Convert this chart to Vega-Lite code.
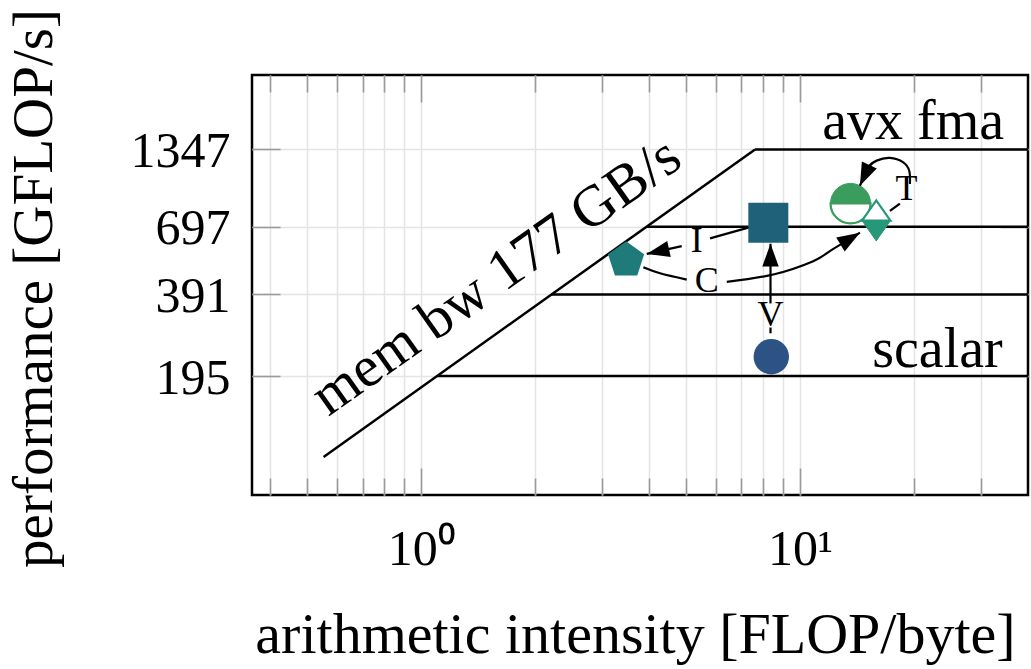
{
  "$schema": "https://vega.github.io/schema/vega-lite/v6.json",
  "width": 776,
  "height": 420,
  "autosize": "none",
  "padding": {"left": 252, "top": 75, "right": 3, "bottom": 174},
  "background": "white",
  "config": {
    "font": "Liberation Serif",
    "view": {"stroke": "black", "strokeWidth": 2.5, "fill": "white"},
    "axis": {
      "domain": false,
      "labelFont": "Liberation Serif",
      "labelFontSize": 50,
      "labelColor": "black",
      "titleFont": "Liberation Serif",
      "titleFontSize": 54,
      "titleFontWeight": "normal",
      "titleColor": "black",
      "tickColor": "#9a9a9a",
      "tickWidth": 1.6,
      "gridColor": "#e4e4e4",
      "gridWidth": 1.5,
      "labelOverlap": false,
      "labelFlush": false
    }
  },
  "resolve": {"axis": {"x": "independent", "y": "independent"}},
  "datasets": {
    "roofs": [
      {"roof": "mem bw", "x": 0.5524, "y": 97.8, "x2": 7.61, "y2": 1347},
      {"roof": "avx fma", "x": 7.61, "y": 1347, "x2": 40, "y2": 1347},
      {"roof": "697", "x": 3.938, "y": 697, "x2": 40, "y2": 697},
      {"roof": "391", "x": 2.209, "y": 391, "x2": 40, "y2": 391},
      {"roof": "scalar", "x": 1.1017, "y": 195, "x2": 40, "y2": 195}
    ],
    "markers": [
      {"name": "scalar", "x": 8.4, "y": 230},
      {"name": "V", "x": 8.25, "y": 721},
      {"name": "I", "x": 3.475, "y": 524},
      {"name": "C", "x": 13.6, "y": 850},
      {"name": "T", "x": 15.9, "y": 734}
    ],
    "arrows": [
      {"path": "I1", "i": 0, "x": 7.305, "y": 691.1},
      {"path": "I1", "i": 1, "x": 5.788, "y": 631.0},
      {"path": "I2", "i": 0, "x": 4.874, "y": 590.6},
      {"path": "I2", "i": 1, "x": 3.94, "y": 552.7},
      {"path": "C1", "i": 0, "x": 3.86, "y": 493.4},
      {"path": "C1", "i": 1, "x": 4.272, "y": 468.7},
      {"path": "C1", "i": 2, "x": 5.024, "y": 444.0},
      {"path": "C2", "i": 0, "x": 6.408, "y": 435.0},
      {"path": "C2", "i": 1, "x": 8.505, "y": 463.5},
      {"path": "C2", "i": 2, "x": 10.84, "y": 519.3},
      {"path": "C2", "i": 3, "x": 12.22, "y": 575.6},
      {"path": "C2", "i": 4, "x": 14.4, "y": 662.2},
      {"path": "V1", "i": 0, "x": 8.36, "y": 280.8},
      {"path": "V1", "i": 1, "x": 8.36, "y": 294.9},
      {"path": "V2", "i": 0, "x": 8.36, "y": 362.2},
      {"path": "V2", "i": 1, "x": 8.36, "y": 602.6},
      {"path": "T1", "i": 0, "x": 17.28, "y": 797.4},
      {"path": "T1", "i": 1, "x": 18.36, "y": 849.2},
      {"path": "T2", "i": 0, "x": 19.51, "y": 1002.5},
      {"path": "T2", "i": 1, "x": 19.43, "y": 1123.3},
      {"path": "T2", "i": 2, "x": 18.74, "y": 1206.5},
      {"path": "T2", "i": 3, "x": 17.28, "y": 1252.7},
      {"path": "T2", "i": 4, "x": 15.94, "y": 1224.2},
      {"path": "T2", "i": 5, "x": 15.14, "y": 1155.7},
      {"path": "T2", "i": 6, "x": 14.4, "y": 988.1}
    ],
    "heads": [
      {"arrow": "I", "x": 3.94, "y": 552.7, "dir": 257.6},
      {"arrow": "C", "x": 14.4, "y": 662.2, "dir": 58.9},
      {"arrow": "V", "x": 8.36, "y": 602.6, "dir": 0},
      {"arrow": "T", "x": 14.4, "y": 988.1, "dir": 204.4}
    ],
    "steps": [
      {"t": "I", "x": 5.339, "y": 616.6},
      {"t": "C", "x": 5.674, "y": 437.5},
      {"t": "V", "x": 8.36, "y": 326.8},
      {"t": "T", "x": 19.12, "y": 963.0}
    ],
    "ceilings": [
      {"t": "avx fma", "x": 34.6, "y": 1475},
      {"t": "scalar", "x": 34.3, "y": 211}
    ],
    "bandwidth": [
      {"t": "mem bw 177 GB/s", "x": 1.68, "y": 403}
    ]
  },
  "layer": [
    {
      "data": {"name": "roofs"},
      "mark": {"type": "rule", "color": "black", "strokeWidth": 2.5},
      "encoding": {
        "x": {
          "field": "x", "type": "quantitative",
          "scale": {"type": "log", "domain": [0.3575, 40], "nice": false},
          "axis": {
            "orient": "bottom", "values": [1, 10], "ticks": false, "grid": false,
            "labelExpr": "datum.value < 5 ? '10⁰' : '10¹'",
            "labelPadding": 69, "labelBaseline": "alphabetic",
            "title": "arithmetic intensity [FLOP/byte]", "titleFontSize": 58,
            "titleX": 383, "titleY": 157, "titleBaseline": "alphabetic", "titleAlign": "center", "titleAngle": 0
          }
        },
        "x2": {"field": "x2"},
        "y": {
          "field": "y", "type": "quantitative",
          "scale": {"type": "log", "domain": [70.7, 2541], "nice": false},
          "axis": {
            "orient": "left", "values": [195, 391, 697, 1347], "ticks": false, "grid": false,
            "labelExpr": "format(datum.value, 'd')",
            "labelPadding": 22, "labelBaseline": "alphabetic", "labelOffset": 17,
            "title": "performance [GFLOP/s]", "titleFontSize": 57,
            "titleX": -201, "titleY": 213, "titleBaseline": "alphabetic", "titleAlign": "center", "titleAngle": -90
          }
        },
        "y2": {"field": "y2"}
      }
    },
    {
      "data": {"name": "markers"},
      "transform": [{"filter": "datum.name === 'scalar'"}],
      "mark": {"type": "point", "shape": "circle", "filled": true, "opacity": 1, "color": "#2d5385", "size": 1257},
      "encoding": {
        "x": {
          "field": "x", "type": "quantitative",
          "scale": {"type": "log", "domain": [0.3575, 40], "nice": false},
          "axis": {"orient": "bottom", "values": [1, 10], "tickSize": -27, "labels": false, "grid": true, "title": null}
        },
        "y": {
          "field": "y", "type": "quantitative",
          "scale": {"type": "log", "domain": [70.7, 2541], "nice": false},
          "axis": {"orient": "left", "values": [195, 391, 697, 1347], "tickSize": -28, "labels": false, "grid": true, "title": null}
        }
      }
    },
    {
      "data": {"name": "markers"},
      "transform": [{"filter": "datum.name === 'V'"}],
      "mark": {"type": "point", "shape": "square", "filled": true, "opacity": 1, "color": "#1f6178", "size": 1600},
      "encoding": {
        "x": {
          "field": "x", "type": "quantitative",
          "scale": {"type": "log", "domain": [0.3575, 40], "nice": false},
          "axis": {"orient": "bottom", "values": [0.4, 0.5, 0.6, 0.7, 0.8, 0.9, 2, 3, 4, 5, 6, 7, 8, 9, 20, 30], "tickSize": -17, "labels": false, "grid": true, "title": null}
        },
        "y": {
          "field": "y", "type": "quantitative",
          "scale": {"type": "log", "domain": [70.7, 2541], "nice": false},
          "axis": {"orient": "right", "values": [195, 391, 697, 1347], "tickSize": -28, "labels": false, "grid": false, "title": null}
        }
      }
    },
    {
      "data": {"name": "markers"},
      "transform": [{"filter": "datum.name === 'I'"}],
      "mark": {"type": "point", "shape": "M0,-1L0.951,-0.309L0.588,0.809L-0.588,0.809L-0.951,-0.309Z", "filled": true, "opacity": 1, "color": "#1f7b79", "size": 1444},
      "encoding": {
        "x": {
          "field": "x", "type": "quantitative",
          "scale": {"type": "log", "domain": [0.3575, 40], "nice": false},
          "axis": {"orient": "top", "values": [1, 10], "tickSize": -27, "labels": false, "grid": false, "title": null}
        },
        "y": {"field": "y", "type": "quantitative", "scale": {"type": "log", "domain": [70.7, 2541], "nice": false}, "axis": null}
      }
    },
    {
      "data": {"name": "markers"},
      "transform": [{"filter": "datum.name === 'C'"}],
      "mark": {"type": "point", "shape": "M-1,0A1,1,0,0,0,1,0Z", "filled": true, "opacity": 1, "fill": "white", "stroke": "#3a9c5d", "strokeWidth": 2.2, "size": 1600},
      "encoding": {
        "x": {
          "field": "x", "type": "quantitative",
          "scale": {"type": "log", "domain": [0.3575, 40], "nice": false},
          "axis": {"orient": "top", "values": [0.4, 0.5, 0.6, 0.7, 0.8, 0.9, 2, 3, 4, 5, 6, 7, 8, 9, 20, 30], "tickSize": -17, "labels": false, "grid": false, "title": null}
        },
        "y": {"field": "y", "type": "quantitative", "scale": {"type": "log", "domain": [70.7, 2541], "nice": false}, "axis": null}
      }
    },
    {
      "data": {"name": "markers"},
      "transform": [{"filter": "datum.name === 'C'"}],
      "mark": {"type": "point", "shape": "M-1,0A1,1,0,0,1,1,0Z", "filled": true, "opacity": 1, "fill": "#3a9c5d", "stroke": "#3a9c5d", "strokeWidth": 1, "size": 1600},
      "encoding": {
        "x": {"field": "x", "type": "quantitative", "scale": {"type": "log", "domain": [0.3575, 40], "nice": false}, "axis": null},
        "y": {"field": "y", "type": "quantitative", "scale": {"type": "log", "domain": [70.7, 2541], "nice": false}, "axis": null}
      }
    },
    {
      "data": {"name": "markers"},
      "transform": [{"filter": "datum.name === 'T'"}],
      "mark": {"type": "point", "shape": "M-1,0L0,-1.43L1,0Z", "filled": true, "opacity": 1, "fill": "white", "stroke": "#26987a", "strokeWidth": 2.2, "size": 806},
      "encoding": {
        "x": {"field": "x", "type": "quantitative", "scale": {"type": "log", "domain": [0.3575, 40], "nice": false}, "axis": null},
        "y": {"field": "y", "type": "quantitative", "scale": {"type": "log", "domain": [70.7, 2541], "nice": false}, "axis": null}
      }
    },
    {
      "data": {"name": "markers"},
      "transform": [{"filter": "datum.name === 'T'"}],
      "mark": {"type": "point", "shape": "M-1,0L1,0L0,1.43Z", "filled": true, "opacity": 1, "fill": "#26987a", "stroke": "#26987a", "strokeWidth": 1, "size": 806},
      "encoding": {
        "x": {"field": "x", "type": "quantitative", "scale": {"type": "log", "domain": [0.3575, 40], "nice": false}, "axis": null},
        "y": {"field": "y", "type": "quantitative", "scale": {"type": "log", "domain": [70.7, 2541], "nice": false}, "axis": null}
      }
    },
    {
      "data": {"name": "arrows"},
      "mark": {"type": "line", "color": "black", "strokeWidth": 2.2, "interpolate": "cardinal"},
      "encoding": {
        "x": {"field": "x", "type": "quantitative", "scale": {"type": "log", "domain": [0.3575, 40], "nice": false}, "axis": null},
        "y": {"field": "y", "type": "quantitative", "scale": {"type": "log", "domain": [70.7, 2541], "nice": false}, "axis": null},
        "detail": {"field": "path", "type": "nominal"},
        "order": {"field": "i", "type": "quantitative"}
      }
    },
    {
      "data": {"name": "heads"},
      "mark": {"type": "point", "shape": "M0,0L0.65,1.8L-0.65,1.8Z", "filled": true, "opacity": 1, "color": "black", "size": 640},
      "encoding": {
        "x": {"field": "x", "type": "quantitative", "scale": {"type": "log", "domain": [0.3575, 40], "nice": false}, "axis": null},
        "y": {"field": "y", "type": "quantitative", "scale": {"type": "log", "domain": [70.7, 2541], "nice": false}, "axis": null},
        "angle": {"field": "dir", "type": "quantitative", "scale": null}
      }
    },
    {
      "data": {"name": "steps"},
      "mark": {"type": "text", "font": "Liberation Serif", "fontSize": 36, "align": "center", "baseline": "middle", "color": "black"},
      "encoding": {
        "x": {"field": "x", "type": "quantitative", "scale": {"type": "log", "domain": [0.3575, 40], "nice": false}, "axis": null},
        "y": {"field": "y", "type": "quantitative", "scale": {"type": "log", "domain": [70.7, 2541], "nice": false}, "axis": null},
        "text": {"field": "t"}
      }
    },
    {
      "data": {"name": "ceilings"},
      "mark": {"type": "text", "font": "Liberation Serif", "fontSize": 56, "align": "right", "baseline": "alphabetic", "color": "black"},
      "encoding": {
        "x": {"field": "x", "type": "quantitative", "scale": {"type": "log", "domain": [0.3575, 40], "nice": false}, "axis": null},
        "y": {"field": "y", "type": "quantitative", "scale": {"type": "log", "domain": [70.7, 2541], "nice": false}, "axis": null},
        "text": {"field": "t"}
      }
    },
    {
      "data": {"name": "bandwidth"},
      "mark": {"type": "text", "font": "Liberation Serif", "fontSize": 58, "align": "center", "baseline": "alphabetic", "angle": -35.3, "color": "black"},
      "encoding": {
        "x": {"field": "x", "type": "quantitative", "scale": {"type": "log", "domain": [0.3575, 40], "nice": false}, "axis": null},
        "y": {"field": "y", "type": "quantitative", "scale": {"type": "log", "domain": [70.7, 2541], "nice": false}, "axis": null},
        "text": {"field": "t"}
      }
    }
  ]
}
